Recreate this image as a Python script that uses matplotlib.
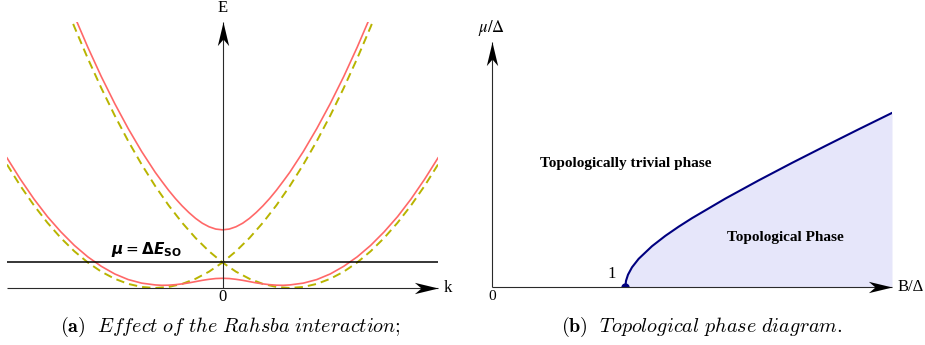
import matplotlib
matplotlib.use('Agg')
import matplotlib.pyplot as plt
from matplotlib.path import Path

# --- (a) Rashba bands (k in units of k0, E in units of the crossing energy)
k = [-3.2, -3.0, -2.8, -2.6, -2.4, -2.2, -2.0, -1.8, -1.6, -1.4, -1.2, -1.0, -0.8, -0.6, -0.4, -0.2,
     0.0, 0.2, 0.4, 0.6, 0.8, 1.0, 1.2, 1.4, 1.6, 1.8, 2.0, 2.2, 2.4, 2.6, 2.8, 3.0, 3.2]
e_dash_left = [4.84, 4.0, 3.24, 2.56, 1.96, 1.44, 1.0, 0.64, 0.36, 0.16, 0.04, 0.0, 0.04, 0.16, 0.36, 0.64,
               1.0, 1.44, 1.96, 2.56, 3.24, 4.0, 4.84, 5.76, 6.76, 7.84, 9.0, 10.24, 11.56, 12.96, 14.44, 16.0, 17.64]
e_dash_right = e_dash_left[::-1]

# red bands are symmetric in k, only the k >= 0 half is listed
k_half = [0.0, 0.1, 0.2, 0.3, 0.4, 0.5, 0.6, 0.7, 0.8, 0.9, 1.0, 1.2, 1.4, 1.6, 1.8, 2.0, 2.2, 2.4,
          2.6, 2.8, 3.0, 3.2]
e_red_upper_half = [2.28, 2.31, 2.40, 2.54, 2.73, 2.96, 3.22, 3.51, 3.83, 4.18, 4.54, 5.35, 6.25, 7.23,
                    8.29, 9.44, 10.67, 11.98, 13.4, 14.9, 16.5, 18.2]
e_red_lower_half = [0.38, 0.37, 0.34, 0.30, 0.25, 0.20, 0.16, 0.13, 0.11, 0.105, 0.12, 0.19, 0.33, 0.55,
                    0.85, 1.22, 1.67, 2.20, 2.80, 3.49, 4.26, 5.10]
k_red = [-v for v in k_half[:0:-1]] + k_half
e_red_upper = e_red_upper_half[:0:-1] + e_red_upper_half
e_red_lower = e_red_lower_half[:0:-1] + e_red_lower_half
mu_level = 1.0

# --- (b) phase boundary mu/Delta vs B/Delta
b_vals = [1.0, 1.005, 1.02, 1.05, 1.1, 1.2, 1.3, 1.4, 1.5, 1.75, 2.0, 2.25, 2.5, 2.75, 3.0]
mu_vals = [0.0, 0.10, 0.20, 0.32, 0.458, 0.663, 0.831, 0.98, 1.118, 1.436, 1.732, 2.016, 2.291, 2.562, 2.828]

red = '#ff6868'
olive = '#b8b400'
serif = 'Liberation Serif'
axcol = '#2a2a2a'

# stealth arrow heads, tip at the origin of the marker
head_right = Path([(0, 0), (-1, 0.24), (-0.72, 0), (-1, -0.24), (0, 0)],
                  [Path.MOVETO, Path.LINETO, Path.LINETO, Path.LINETO, Path.CLOSEPOLY])
head_up = Path([(0, 0), (0.24, -1), (0, -0.72), (-0.24, -1), (0, 0)],
               [Path.MOVETO, Path.LINETO, Path.LINETO, Path.LINETO, Path.CLOSEPOLY])


def arrow_axis(ax, x0, y0, x1, y1, head):
    ax.plot([x0, x1], [y0, y1], color=axcol, lw=0.8, clip_on=False, solid_capstyle='butt')
    ax.plot([x1], [y1], marker=head, ms=34, color='black', mew=0, clip_on=False)


fig = plt.figure(figsize=(9.25, 3.45), dpi=100)
W, H = 925, 345

ax1 = fig.add_axes([7 / W, (H - 289) / H, 431 / W, 267 / H])
ax1.set_xlim(-3.2, 3.2)
ax1.set_ylim(-0.04, 10.43)
ax1.axis('off')

ax1.plot(k, e_dash_left, color=olive, lw=1.4, dashes=[4.3, 2.6])
ax1.plot(k, e_dash_right, color=olive, lw=1.4, dashes=[4.3, 2.6])
ax1.plot(k_red, e_red_upper, color=red, lw=1.2)
ax1.plot(k_red, e_red_lower, color=red, lw=1.2)
ax1.axhline(mu_level, color='black', lw=1.1)

arrow_axis(ax1, -3.2, 0, 3.2, 0, head_right)
arrow_axis(ax1, 0, 0, 0, 10.43, head_up)
ax1.text(0, 10.98, 'E', ha='center', va='center', fontsize=12, family=serif)
ax1.text(3.34, 0, 'k', ha='center', va='center', fontsize=12, family=serif)
ax1.text(0, -0.36, '0', ha='center', va='center', fontsize=12, family=serif)
ax1.text(-1.13, 1.12, r'$\mathbfit{\mu} = \mathbf{\Delta}\mathbfit{E}_{\mathbf{SO}}$',
         ha='center', va='bottom', fontsize=11, math_fontfamily='dejavusans')

ax2 = fig.add_axes([492 / W, (H - 287) / H, 400 / W, 245 / H])
ax2.set_xlim(0, 3.0)
ax2.set_ylim(0, 3.98)
ax2.axis('off')

ax2.fill_between(b_vals, mu_vals, 0, color='#e6e6fa', lw=0)
ax2.plot(b_vals, mu_vals, color='#000080', lw=1.5)
ax2.plot([b_vals[0]], [mu_vals[0]], 'o', color='#000080', ms=5)
arrow_axis(ax2, 0, 0, 3.0, 0, head_right)
arrow_axis(ax2, 0, 0, 0, 3.98, head_up)
ax2.text(0, 4.21, r'$\mu/\Delta$', ha='center', va='center', fontsize=12, math_fontfamily='stix')
ax2.text(3.045, 0, 'B/Δ', ha='left', va='center', fontsize=12, family=serif)
ax2.text(0, -0.16, '0', ha='center', va='center', fontsize=11, family=serif)
ax2.text(0.9, 0.21, '1', ha='center', va='center', fontsize=12, family=serif)
ax2.text(1.0, 2.01, 'Topologically trivial phase', ha='center', va='center',
         fontsize=11, family=serif, weight='bold')
ax2.text(2.2, 0.81, 'Topological Phase', ha='center', va='center',
         fontsize=11, family=serif, weight='bold')

fig.text(230 / W, 1 - 327 / H, r'$\mathbf{(a)}\ \ \mathit{Effect\ of\ the\ Rahsba\ interaction;}$',
         ha='center', va='center', fontsize=14.5, math_fontfamily='cm')
fig.text(702 / W, 1 - 327 / H, r'$\mathbf{(b)}\ \ \mathit{Topological\ phase\ diagram.}$',
         ha='center', va='center', fontsize=14.5, math_fontfamily='cm')

fig.savefig('out.png', dpi=100)
